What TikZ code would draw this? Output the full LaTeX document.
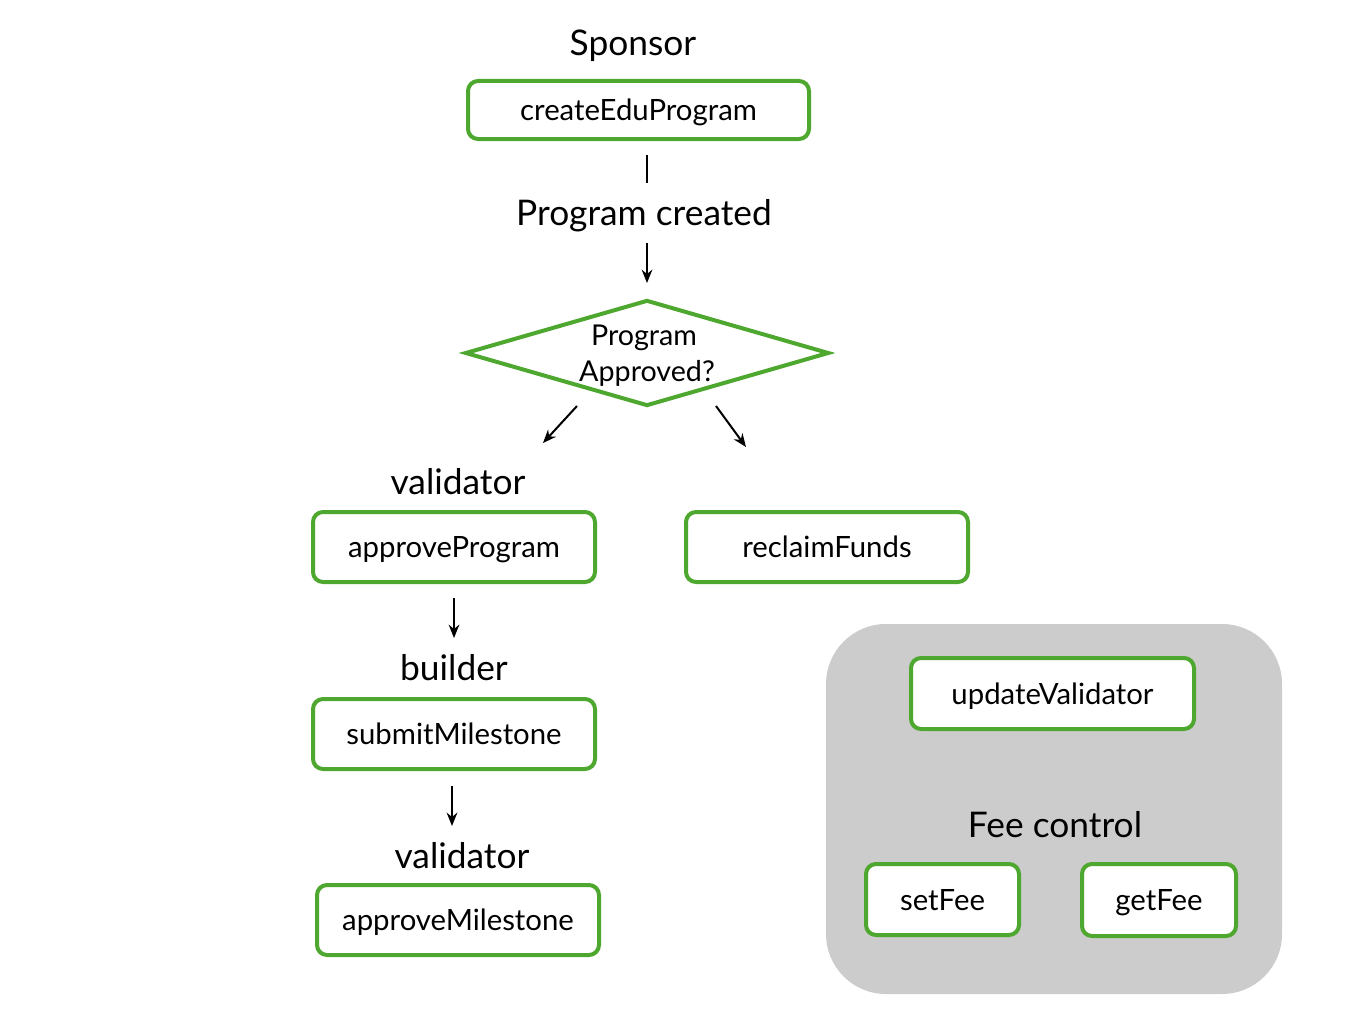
\documentclass[tikz,border=0pt]{standalone}
\usepackage{fontspec}
\setmainfont{Lato}
\usetikzlibrary{shapes.geometric,arrows.meta}
\definecolor{boxgreen}{HTML}{4EA72E}
\definecolor{panelgray}{HTML}{CCCCCC}
\tikzset{
  fnbox/.style={draw=boxgreen, line width=3pt, rounded corners=7.5pt, fill=white, inner sep=0pt, text height=18.05pt, text depth=2.15pt, font=\fontsize{22}{26}\selectfont},
  lbl/.style={font=\fontsize{26.5}{30}\selectfont, inner sep=0pt, text height=21.25pt, text depth=3.05pt},
  dtext/.style={font=\fontsize{21.5}{25}\selectfont, inner sep=0pt, text height=17.75pt, text depth=2.05pt},
  conn/.style={line width=1.5pt, -{Stealth[length=10pt,width=8pt]}},
  plain/.style={line width=1.5pt}
}
\begin{document}
\begin{tikzpicture}[x=0.75pt,y=-0.75pt]
\useasboundingbox (0,0) rectangle (1357,1031);
% panel
\fill[panelgray, rounded corners=45pt] (826,624) rectangle (1282,994);
\node[lbl] (sponsor) at (633,43) {Sponsor};
\node[fnbox, minimum width=255.75pt, minimum height=43.5pt] (create) at (638.5,110) {createEduProgram};
\coordinate (l1a) at (647,155);
\coordinate (l1b) at (647,183);
\draw[plain] (l1a) -- (l1b);
\node[lbl] (created) at (644,213) {Program created};
\coordinate (a1a) at (647,243);
\coordinate (a1b) at (647,283);
\draw[conn] (a1a) -- (a1b);
\node[draw=boxgreen, line width=3pt, diamond, aspect=3.43, minimum width=273pt, minimum height=79.5pt, inner sep=0pt] (dec) at (647,353) {};
\node[dtext] (dect1) at (644,335) {Program};
\node[dtext] (dect2) at (647,371) {Approved?};
\coordinate (al1) at (577,406);
\coordinate (al2) at (543,443);
\draw[conn] (al1) -- (al2);
\coordinate (ar1) at (716,406);
\coordinate (ar2) at (746,447);
\draw[conn] (ar1) -- (ar2);
\node[lbl] (val1) at (458,482) {validator};
\node[fnbox, minimum width=211.5pt, minimum height=52.5pt] (approveP) at (454,547) {approveProgram};
\node[fnbox, minimum width=211.5pt, minimum height=52.5pt] (reclaim) at (827,547) {reclaimFunds};
\coordinate (a2a) at (454,598);
\coordinate (a2b) at (454,638);
\draw[conn] (a2a) -- (a2b);
\node[lbl] (builder) at (454,668) {builder};
\node[fnbox, minimum width=211.5pt, minimum height=52.5pt] (submit) at (454,734) {submitMilestone};
\coordinate (a3a) at (452,786);
\coordinate (a3b) at (452,826);
\draw[conn] (a3a) -- (a3b);
\node[lbl] (val2) at (462,856) {validator};
\node[fnbox, minimum width=211.5pt, minimum height=52.5pt] (approveM) at (458,920) {approveMilestone};
\node[fnbox, minimum width=212.25pt, minimum height=53.25pt] (update) at (1052.5,693.5) {updateValidator};
\node[lbl] (fee) at (1055,825) {Fee control};
\node[fnbox, minimum width=114.75pt, minimum height=53.25pt] (setfee) at (942.5,899.5) {setFee};
\node[fnbox, minimum width=115.5pt, minimum height=54pt] (getfee) at (1159,900) {getFee};
\end{tikzpicture}
\end{document}
